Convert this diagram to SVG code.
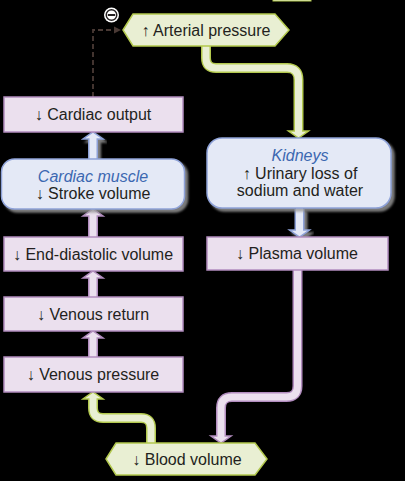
<svg xmlns="http://www.w3.org/2000/svg" width="405" height="481" viewBox="0 0 405 481">
<defs>
<style>
text{font-family:"Liberation Sans",Arial,sans-serif;font-size:16px;fill:#231f20;text-anchor:middle}
.it{font-style:italic;fill:#3c68b1}
.lav{fill:#ebe0ee;stroke:#b28dbf;stroke-width:1.5}
.grn{fill:#e9efd3;stroke:#b3c94e;stroke-width:1.5}
.blu{fill:#e4e9f6;stroke:#8ea2d8;stroke-width:1.5}
.go{fill:none;stroke:#b3c94e;stroke-width:10}
.gi{fill:none;stroke:#e9efd3;stroke-width:7}
.po{fill:none;stroke:#b28dbf;stroke-width:10}
.pi{fill:none;stroke:#ebe0ee;stroke-width:7}
.bo{fill:none;stroke:#8ea2d8;stroke-width:10}
.bi{fill:none;stroke:#e4e9f6;stroke-width:7}
</style>
<filter id="sh" x="-10%" y="-10%" width="130%" height="130%">
<feDropShadow dx="3" dy="3" stdDeviation="1.2" flood-color="#9a9a9a" flood-opacity="0.8"/>
</filter>
<marker id="dh" markerWidth="8" markerHeight="8" refX="7" refY="4" orient="auto" markerUnits="userSpaceOnUse">
<path d="M0,0.5 L7,4 L0,7.5 Z" fill="#4a3a35"/>
</marker>
</defs>
<rect width="405" height="481" fill="#000"/>
<rect x="273" y="-2" width="38" height="3" fill="#e9efd3" stroke="#b3c94e" stroke-width="1"/>

<g id="connectors">
<path d="M93,97 V30 H121" fill="none" stroke="#4a3a35" stroke-width="1.8" stroke-dasharray="5,3" marker-end="url(#dh)"/>
<g id="minus">
<circle cx="111.5" cy="15" r="7.5" fill="#fff"/>
<circle cx="111.5" cy="15" r="5.3" fill="#fff" stroke="#231f20" stroke-width="1.4"/>
<rect x="107.8" y="14" width="7.4" height="2" fill="#231f20"/>
</g>
<path class="go" d="M206,46 V58 Q206,68 216,68 H287 Q298.5,68 298.5,80 V132"/>
<polygon class="grn" points="288.5,131 308.5,131 298.5,138"/>
<path class="gi" d="M206,45 V58 Q206,68 216,68 H287 Q298.5,68 298.5,80 V133"/>
<g filter="url(#sh)">
<path class="bo" d="M299.5,209 V231"/>
<polygon class="blu" points="289.5,230 309.5,230 299.5,237"/>
<path class="bi" d="M299.5,208 V232"/>
</g>
<path class="po" d="M297.5,270 V386 Q297.5,397 286.5,397 H232 Q221,397 221,408 V437"/>
<polygon class="lav" points="211,436 231,436 221,443"/>
<path class="pi" d="M297.5,269 V386 Q297.5,397 286.5,397 H232 Q221,397 221,408 V438"/>
<path class="go" d="M151,443 V428 Q151,418 141,418 H103 Q93,418 93,408 V398"/>
<polygon class="grn" points="83,399 103,399 93,392"/>
<path class="gi" d="M151,444 V428 Q151,418 141,418 H103 Q93,418 93,408 V397"/>
<path class="po" d="M93,357 V338"/>
<polygon class="lav" points="83,338 103,338 93,331"/>
<path class="pi" d="M93,358 V337"/>
<path class="po" d="M93,297 V278"/>
<polygon class="lav" points="83,278 103,278 93,271"/>
<path class="pi" d="M93,298 V277"/>
<path class="po" d="M93,237 V216"/>
<polygon class="lav" points="83,216 103,216 93,209"/>
<path class="pi" d="M93,238 V215"/>
<g filter="url(#sh)">
<path class="bo" d="M93,159 V139"/>
<polygon class="blu" points="83,139 103,139 93,132"/>
<path class="bi" d="M93,160 V138"/>
</g>
</g>

<g id="arterial-pressure">
<polygon class="grn" points="123,30 133,14 275,14 289,30 275,46 133,46"/>
<text x="206" y="36">↑ Arterial pressure</text>
</g>
<g id="cardiac-output">
<rect class="lav" x="4" y="97" width="179" height="35"/>
<text x="93" y="120">↓ Cardiac output</text>
</g>
<g id="cardiac-muscle">
<rect class="blu" x="1.5" y="159" width="183" height="50" rx="13" filter="url(#sh)"/>
<text class="it" x="93" y="182">Cardiac muscle</text>
<text x="93" y="199">↓ Stroke volume</text>
</g>
<g id="end-diastolic-volume">
<rect class="lav" x="4" y="237" width="179" height="34"/>
<text x="93" y="259.5">↓ End-diastolic volume</text>
</g>
<g id="venous-return">
<rect class="lav" x="4" y="297" width="179" height="34"/>
<text x="93" y="319.5">↓ Venous return</text>
</g>
<g id="venous-pressure">
<rect class="lav" x="4" y="357" width="179" height="35"/>
<text x="93" y="380">↓ Venous pressure</text>
</g>
<g id="kidneys">
<rect class="blu" x="207" y="138" width="184" height="70" rx="15" filter="url(#sh)"/>
<text class="it" x="300" y="161">Kidneys</text>
<text x="300" y="178.5">↑ Urinary loss of</text>
<text x="300" y="196">sodium and water</text>
</g>
<g id="plasma-volume">
<rect class="lav" x="207" y="237" width="181" height="33"/>
<text x="297" y="259">↓ Plasma volume</text>
</g>
<g id="blood-volume">
<polygon class="grn" points="106,459 116,443 255,443 267,459 255,475 116,475"/>
<text x="187" y="464.5">↓ Blood volume</text>
</g>
</svg>
